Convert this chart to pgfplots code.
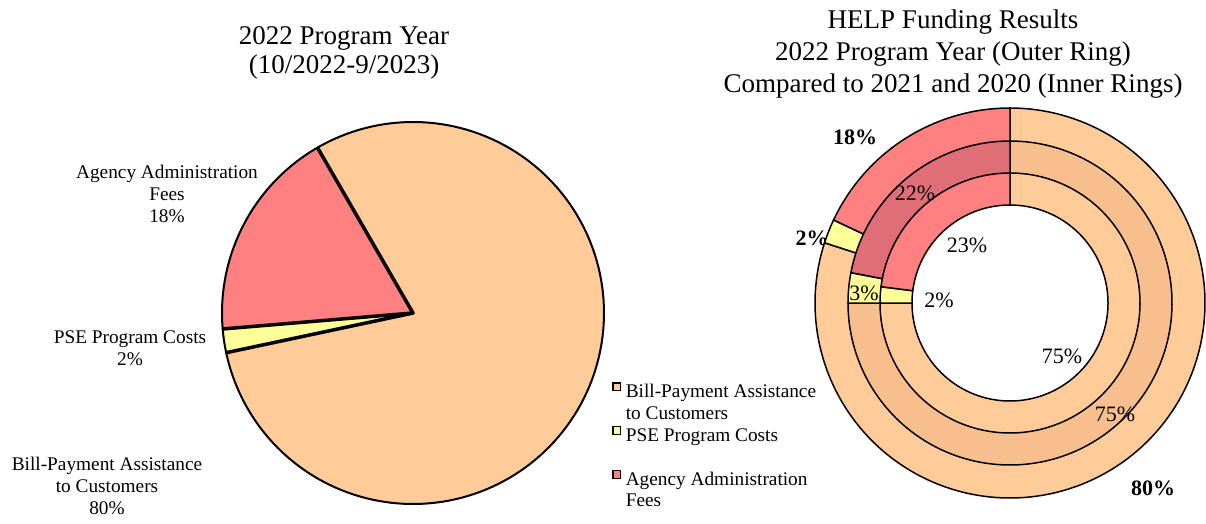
\documentclass[border=0pt]{standalone}
\usepackage{pgfplots}
\pgfplotsset{compat=1.18}
\usepackage{fontspec}
\setmainfont{Liberation Serif}
\definecolor{cOrange}{HTML}{FFCC99}
\definecolor{cYellow}{HTML}{FFFF99}
\definecolor{cRed}{HTML}{FF8080}
\definecolor{cOrangeD}{HTML}{F8BF8E}
\definecolor{cRedD}{HTML}{E06E77}
\newcommand{\lab}{\fontsize{19.3}{21.8}\selectfont}
\newcommand{\ttl}{\fontsize{27}{31.5}\selectfont}
\newcommand{\dlab}{\fontsize{22}{24}\selectfont}
% Shares (percent)
% 2022 program year: Bill-Payment 80, PSE 2, Agency 18
% 2021: Bill-Payment 75, PSE 3, Agency 22
% 2020: Bill-Payment 75, PSE 2, Agency 23
\begin{document}
\begin{tikzpicture}[x=1pt,y=1pt]
\useasboundingbox (0,0) rectangle (1206,-523);
% ---------- left titles and labels
\node[anchor=base,font=\ttl] at (344,-44.3) {2022 Program Year};
\node[anchor=base,font=\ttl] at (344,-73.3) {(10/2022-9/2023)};
\node[anchor=base,font=\lab] at (167,-178) {Agency Administration};
\node[anchor=base,font=\lab] at (167,-200) {Fees};
\node[anchor=base,font=\lab] at (167,-222) {18\%};
\node[anchor=base,font=\lab] at (130,-343) {PSE Program Costs};
\node[anchor=base,font=\lab] at (130,-365) {2\%};
\node[anchor=base,font=\lab] at (107,-470) {Bill-Payment Assistance};
\node[anchor=base,font=\lab] at (107,-492) {to Customers};
\node[anchor=base,font=\lab] at (107,-514) {80\%};
% ---------- right titles
\node[anchor=base,font=\ttl] at (953,-28.5) {HELP Funding Results};
\node[anchor=base,font=\ttl] at (953,-60.5) {2022 Program Year (Outer Ring)};
\node[anchor=base,font=\ttl] at (953,-92) {Compared to 2021 and 2020 (Inner Rings)};

% ---------- left pie
\begin{axis}[at={(413,-313)}, anchor=origin, x=1pt, y=1pt,
  xmin=-200, xmax=200, ymin=-200, ymax=200, hide axis, clip=false,
  legend style={draw=none, fill=none, at={(0.9975,0.3275)}, anchor=north west,
    font=\lab, row sep=0pt, inner sep=0pt, column sep=0pt,
    nodes={inner xsep=4.5pt, inner ysep=0pt, text height=15.3pt, text depth=6.5pt}},
  legend cell align=left,
  legend image code/.code={\draw[#1, line width=1.3pt] (0.6pt,2.6pt) rectangle (8.4pt,10.4pt);}]
% Bill-Payment 80% : 120 -> 120-288
\addplot[forget plot, data cs=polar, domain=192:480, samples=150, fill=cOrange, draw=black, line width=2pt, line join=round] {191} -- (axis cs:0,0) -- cycle;
% PSE 2%
\addplot[forget plot, data cs=polar, domain=184.8:192, samples=10, fill=cYellow, draw=black, line width=2pt, line join=round] {191} -- (axis cs:0,0) -- cycle;
% Agency 18%
\addplot[forget plot, data cs=polar, domain=120:184.8, samples=60, fill=cRed, draw=black, line width=2pt, line join=round] {191} -- (axis cs:0,0) -- cycle;
\addplot[forget plot, data cs=polar, draw=black, line width=3.5pt, line join=round] coordinates {(120,191) (0,0) (184.8,191)};
\addplot[forget plot, data cs=polar, draw=black, line width=3.5pt, line join=round] coordinates {(0,0) (192,191)};
\addlegendimage{fill=cOrange, draw=black}
\addlegendentry{Bill-Payment Assistance}
\addlegendimage{empty legend}
\addlegendentry{to Customers}
\addlegendimage{fill=cYellow, draw=black}
\addlegendentry{PSE Program Costs}
\addlegendimage{empty legend}
\addlegendentry{\mbox{}}
\addlegendimage{fill=cRed, draw=black}
\addlegendentry{Agency Administration}
\addlegendimage{empty legend}
\addlegendentry{Fees}
\end{axis}

% ---------- right donut
\begin{axis}[at={(1010,-303)}, anchor=origin, x=1pt, y=1pt,
  xmin=-200, xmax=200, ymin=-200, ymax=200, hide axis, clip=false]
\node[font=\dlab\bfseries] at (axis cs:-198,65) {2\%};
% outer ring: 2022 (80 / 2 / 18)
\addplot[data cs=polar, domain=-198:90, samples=150, fill=cOrange, draw=black, line width=1.5pt] {195} -- (axis cs:0,0) -- cycle;
\addplot[data cs=polar, domain=-205.2:-198, samples=10, fill=cYellow, draw=black, line width=1.5pt] {195} -- (axis cs:0,0) -- cycle;
\addplot[data cs=polar, domain=-270:-205.2, samples=60, fill=cRed, draw=black, line width=1.5pt] {195} -- (axis cs:0,0) -- cycle;
% middle ring: 2021 (75 / 3 / 22)
\addplot[data cs=polar, domain=-180:90, samples=150, fill=cOrangeD, draw=black, line width=1.5pt] {162} -- (axis cs:0,0) -- cycle;
\addplot[data cs=polar, domain=-190.8:-180, samples=10, fill=cYellow, draw=black, line width=1.5pt] {162} -- (axis cs:0,0) -- cycle;
\addplot[data cs=polar, domain=-270:-190.8, samples=60, fill=cRedD, draw=black, line width=1.5pt] {162} -- (axis cs:0,0) -- cycle;
% inner ring: 2020 (75 / 2 / 23)
\addplot[data cs=polar, domain=-180:90, samples=150, fill=cOrange, draw=black, line width=1.5pt] {130} -- (axis cs:0,0) -- cycle;
\addplot[data cs=polar, domain=-187.2:-180, samples=10, fill=cYellow, draw=black, line width=1.5pt] {130} -- (axis cs:0,0) -- cycle;
\addplot[data cs=polar, domain=-270:-187.2, samples=60, fill=cRed, draw=black, line width=1.5pt] {130} -- (axis cs:0,0) -- cycle;
% hole
\addplot[data cs=polar, domain=0:360, samples=180, fill=white, draw=black, line width=1.5pt] {98} -- cycle;
\node[font=\dlab] at (axis cs:-95,110) {22\%};
\node[font=\dlab] at (axis cs:-43,58) {23\%};
\node[font=\dlab] at (axis cs:-71,3) {2\%};
\node[font=\dlab] at (axis cs:-146,10) {3\%};
\node[font=\dlab] at (axis cs:52,-53) {75\%};
\node[font=\dlab] at (axis cs:105,-111) {75\%};
\node[font=\dlab\bfseries] at (axis cs:143,-185) {80\%};
\node[font=\dlab\bfseries] at (axis cs:-155,166) {18\%};
\end{axis}
\end{tikzpicture}
\end{document}
